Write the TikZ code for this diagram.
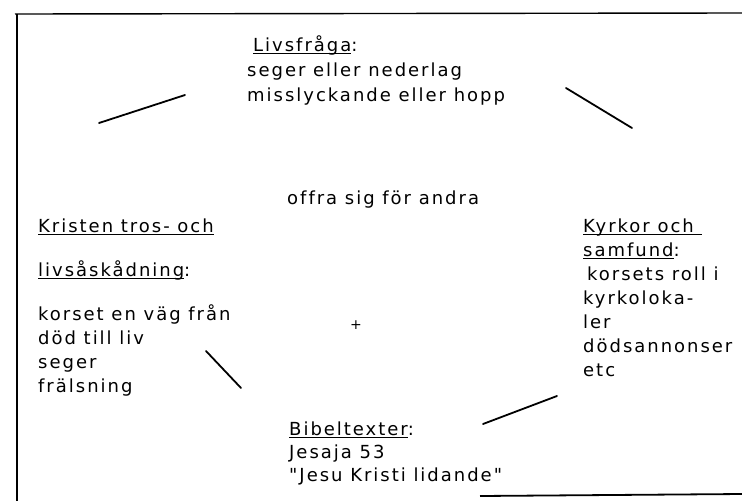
\documentclass[tikz,border=0pt]{standalone}
\usepackage{fontspec}
% wide-set sans, no ligatures, straight quotes
\newfontfamily\plotfont{DejaVu Sans}[LetterSpace=11, Ligatures=NoCommon]
% underline sitting just below the baseline, like a typewriter rule
\newcommand\uword[1]{\setbox0\hbox{#1}\rlap{\rule[-2.8pt]{\wd0}{1pt}}\box0}
\begin{document}
\begin{tikzpicture}[x=1pt,y=-1pt,
  txt/.style={anchor=base west, inner sep=0pt, font=\plotfont\fontsize{18}{24}\selectfont},
  stroke/.style={line width=1.8pt, line cap=round},
  frame/.style={line width=1.4pt}]
\useasboundingbox (0,0) rectangle (742,501);

% page frame
\coordinate (ftl) at (15,14);
\coordinate (ftr) at (742,13);
\coordinate (fbl) at (17,501);
\coordinate (fbm) at (480,496);
\coordinate (fbr) at (742,494);
\draw[frame] (ftl) -- (ftr);
\draw[frame, line width=1.1pt] (17,14) -- (fbl);
\draw[frame, line width=1.8pt] (fbm) -- (fbr);

% top block
\node[txt] (q0) at (253,51) {\uword{Livsfråga}:};
\node[txt] (q1) at (247,76) {seger eller nederlag};
\node[txt] (q2) at (247,101) {misslyckande eller hopp};

% centre
\node[txt] (c0) at (287,204) {offra sig för andra};
\node[font=\plotfont\fontsize{14}{14}\selectfont, inner sep=0pt] (plus) at (356,325) {+};

% left block
\node[txt] (l0) at (38,232) {\uword{Kristen tros- och}};
\node[txt] (l1) at (38,276) {\uword{livsåskådning}:};
\node[txt] (l2) at (38,320) {korset en väg från};
\node[txt] (l3) at (38,344) {död till liv};
\node[txt] (l4) at (38,368) {seger};
\node[txt] (l5) at (38,392) {frälsning};

% right block
\node[txt] (r0) at (583,232) {\uword{Kyrkor och\ }};
\node[txt] (r1) at (583,256) {\uword{samfund}:};
\node[txt] (r2) at (587,280) {korsets roll i};
\node[txt] (r3) at (583,304) {kyrkoloka-};
\node[txt] (r4) at (583,328) {ler};
\node[txt] (r5) at (583,352) {dödsannonser};
\node[txt] (r6) at (583,376) {etc};

% bottom block
\node[txt] (b0) at (289,435) {\uword{Bibeltexter}:};
\node[txt] (b1) at (289,458) {Jesaja 53};
\node[txt] (b2) at (289,481) {"Jesu Kristi lidande"};

% the four strokes linking the blocks in a ring
\coordinate (s1a) at (99,123);  \coordinate (s1b) at (185,95);
\coordinate (s2a) at (566,88);  \coordinate (s2b) at (632,128);
\coordinate (s3a) at (206,351); \coordinate (s3b) at (241,388);
\coordinate (s4a) at (483,424); \coordinate (s4b) at (557,396);
\draw[stroke] (s1a) -- (s1b);
\draw[stroke] (s2a) -- (s2b);
\draw[stroke] (s3a) -- (s3b);
\draw[stroke] (s4a) -- (s4b);
\end{tikzpicture}
\end{document}
